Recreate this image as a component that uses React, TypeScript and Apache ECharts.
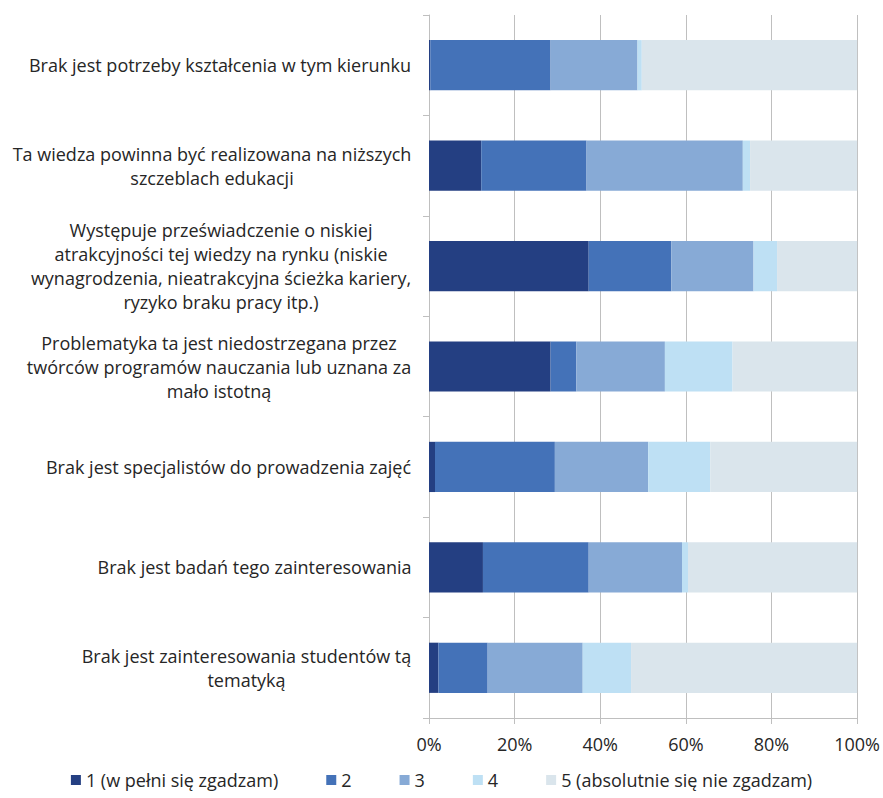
import React, { useEffect, useRef } from "react";
import * as echarts from "echarts";

const categories: string[] = [
  "Brak jest potrzeby kształcenia w tym kierunku",
  "Ta wiedza powinna być realizowana na niższych\nszczeblach edukacji",
  "Występuje przeświadczenie o niskiej\natrakcyjności tej wiedzy na rynku (niskie\nwynagrodzenia, nieatrakcyjna ścieżka kariery,\nryzyko braku pracy itp.)",
  "Problematyka ta jest niedostrzegana przez\ntwórców programów nauczania lub uznana za\nmało istotną",
  "Brak jest specjalistów do prowadzenia zajęć",
  "Brak jest badań tego zainteresowania",
  "Brak jest zainteresowania studentów tą\ntematyką",
];

const seriesNames: string[] = [
  "1 (w pełni się zgadzam)",
  "2",
  "3",
  "4",
  "5 (absolutnie się nie zgadzam)",
];

const s1: number[] = [0.3, 12.2, 37.3, 28.4, 1.4, 12.6, 2.2];
const s2: number[] = [28.1, 24.6, 19.3, 6.0, 28.0, 24.7, 11.5];
const s3: number[] = [20.3, 36.5, 19.2, 20.7, 21.8, 21.8, 22.2];
const s4: number[] = [1.0, 1.7, 5.5, 15.8, 14.5, 1.4, 11.3];
const s5: number[] = [50.3, 25.0, 18.7, 29.1, 34.3, 39.5, 52.8];

const colors: string[] = ["#243F82", "#4472B8", "#87AAD6", "#BEE0F4", "#DAE5EC"];

const xTicks: number[] = [0, 20, 40, 60, 80, 100];

const FONT_FAMILY = "Open Sans";
const FONT_SIZE = 18;
const TEXT_COLOR = "#262626";
const GRID_COLOR = "#BFBFBF";

function measure(text: string): number {
  const c = document.createElement("canvas");
  const ctx = c.getContext("2d");
  if (!ctx) return text.length * 8;
  ctx.font = `${FONT_SIZE}px "${FONT_FAMILY}"`;
  return ctx.measureText(text).width;
}

export default function App() {
  const ref = useRef<HTMLDivElement>(null);

  useEffect(() => {
    if (!ref.current) return;
    const chart = echarts.init(ref.current, undefined, { renderer: "svg" });

    const rich: Record<string, any> = {};
    categories.forEach((cat, i) => {
      const lines = cat.split("\n");
      const w = Math.ceil(Math.max(...lines.map(measure))) + 1;
      rich["r" + i] = {
        width: w,
        align: "center",
        fontSize: FONT_SIZE,
        fontFamily: FONT_FAMILY,
        color: TEXT_COLOR,
        lineHeight: 24,
      };
    });

    const data = [s1, s2, s3, s4, s5];

    chart.setOption({
      animation: false,
      backgroundColor: "#ffffff",
      textStyle: { fontFamily: FONT_FAMILY },
      grid: { left: 429, right: 24, top: 15, bottom: 80, containLabel: false },
      legend: {
        bottom: 4,
        left: "center",
        icon: "rect",
        itemWidth: 10,
        itemHeight: 10,
        itemGap: 48,
        data: seriesNames,
        textStyle: { fontSize: FONT_SIZE, fontFamily: FONT_FAMILY, color: TEXT_COLOR },
      },
      xAxis: {
        type: "value",
        min: xTicks[0],
        max: xTicks[xTicks.length - 1],
        interval: 20,
        axisLine: { show: true, lineStyle: { color: GRID_COLOR, width: 1 } },
        axisTick: { show: true, length: 6, lineStyle: { color: GRID_COLOR } },
        splitLine: { show: true, lineStyle: { color: GRID_COLOR, width: 1 } },
        axisLabel: {
          formatter: "{value}%",
          margin: 17,
          fontSize: FONT_SIZE,
          fontFamily: FONT_FAMILY,
          color: TEXT_COLOR,
        },
      },
      yAxis: {
        type: "category",
        inverse: true,
        data: categories,
        axisLine: { show: true, lineStyle: { color: GRID_COLOR, width: 1 } },
        axisTick: { show: true, length: 6, lineStyle: { color: GRID_COLOR } },
        axisLabel: {
          margin: 17,
          formatter: (value: string, index: number) =>
            value
              .split("\n")
              .map((l) => `{r${index}|${l}}`)
              .join("\n"),
          rich,
        },
      },
      series: data.map((d, i) => ({
        name: seriesNames[i],
        type: "bar",
        stack: "total",
        barWidth: "50%",
        data: d,
        itemStyle: { color: colors[i] },
        emphasis: { disabled: true },
      })),
    });

    return () => chart.dispose();
  }, []);

  return (
    <div
      ref={ref}
      style={{ position: "absolute", left: 0, top: 0, width: 883, height: 798 }}
    />
  );
}
